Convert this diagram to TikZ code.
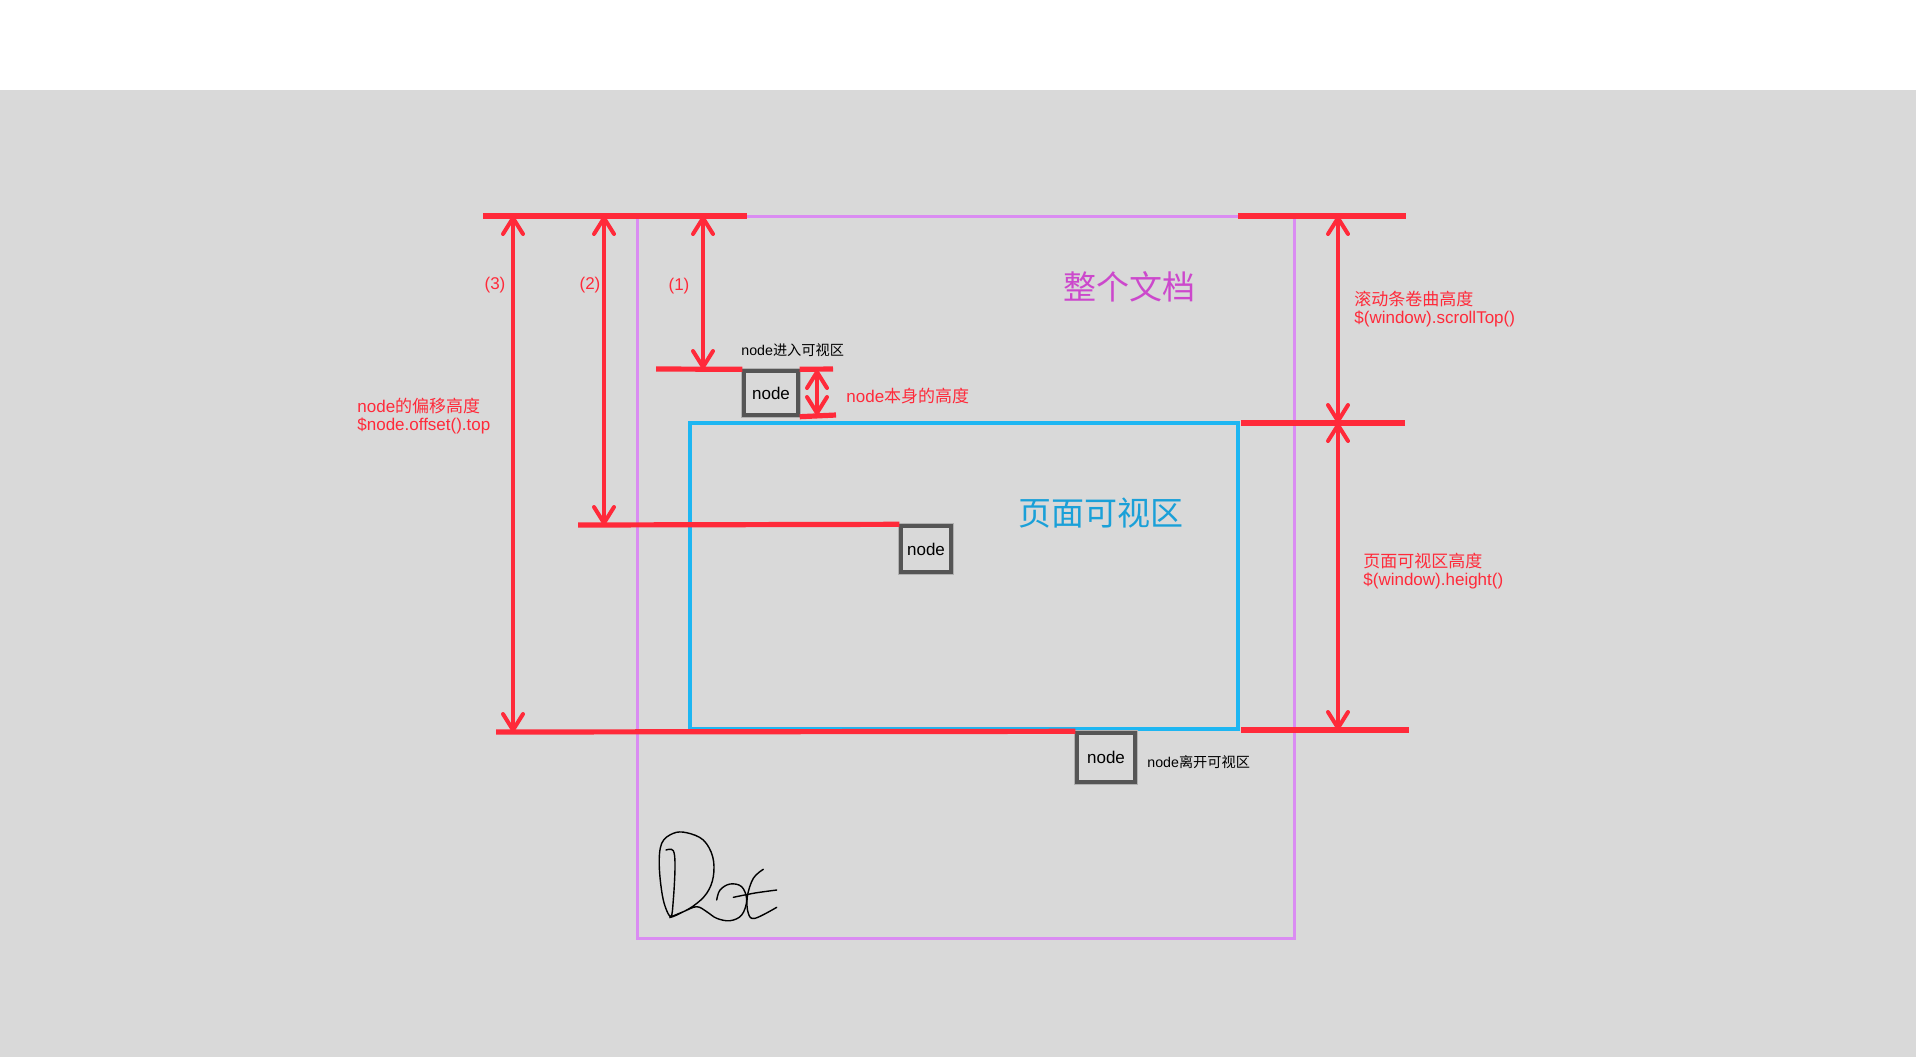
\documentclass[tikz,border=0pt]{standalone}
\usepackage{xcolor}
\usepackage{fontspec}
\setmainfont{Liberation Sans}
\newfontfamily\cjkfont{Noto Sans CJK SC}
\newcommand{\zh}[1]{{\cjkfont #1}}
\usepackage{tikz}
\usetikzlibrary{arrows.meta}
\definecolor{paper}{HTML}{D9D9D9}
\definecolor{measurered}{HTML}{FF2A3A}
\definecolor{docpurple}{HTML}{DA8CF2}
\definecolor{doctext}{HTML}{CC48CC}
\definecolor{viewblue}{HTML}{1DB6F2}
\definecolor{viewtext}{HTML}{1AA0D8}
\definecolor{boxgray}{HTML}{555555}

\tikzset{
  barb/.tip={Straight Barb[length=8pt,width=10pt,round]},
  redbar/.style={draw=measurered, line width=2.6pt},
  measure/.style={draw=measurered, line width=2pt, barb-barb},
  elbox/.style={draw=boxgray, line width=1.7pt, fill=paper, inner sep=0pt,
    preaction={draw=paper!70!boxgray, line width=3.2pt},
    font=\fontsize{8.5}{10}\selectfont},
  redlabel/.style={text=measurered, font=\fontsize{8.5}{9.3}\selectfont,
    align=left, inner sep=0pt, anchor=west},
  smalllabel/.style={text=black, font=\fontsize{7.1}{8}\selectfont,
    inner sep=0pt, anchor=west},
}

\begin{document}
\begin{tikzpicture}[x=0.5pt, y=-0.5pt]
        \useasboundingbox (0,0) rectangle (1916,1057);
        \fill[white] (0,0) rectangle (1916,90);
        \fill[paper] (0,90) rectangle (1916,1057);

        % whole document and visible area
        \draw[docpurple, line width=1.5pt] (637,216) rectangle (1294,938);
        \draw[viewblue, line width=1.6pt] (690,423) rectangle (1238,729);
        \node[text=doctext, font=\cjkfont\fontsize{16.5}{18}\selectfont] (doclabel) at (1129,287) {整个文档};
        \node[text=viewtext, font=\cjkfont\fontsize{16.5}{18}\selectfont] (viewlabel) at (1101,513) {页面可视区};

        % the three nodes
        \node[elbox, minimum width=27pt, minimum height=22pt] (nodeA) at (771,393) {node};
        \node[elbox, minimum width=25pt, minimum height=23pt] (nodeB) at (926,549) {node};
        \node[elbox, minimum width=29pt, minimum height=24.5pt] (nodeC) at (1106,757.5) {node};

        % reference lines
        \coordinate (topL) at (483,216);
        \coordinate (topLend) at (747,216);
        \coordinate (topR) at (1238,216);
        \coordinate (topRend) at (1406,216);
        \coordinate (midR) at (1241,423);
        \coordinate (midRend) at (1405,423);
        \coordinate (botR) at (1241,730);
        \coordinate (botRend) at (1409,730);
        \coordinate (enterL) at (656,369);
        \coordinate (enterR) at (833,369);
        \coordinate (heightR) at (836,415);
        \coordinate (middleL) at (578,525);
        \coordinate (leaveL) at (496,732);
        \draw[redbar] (topL) -- (topLend);
        \draw[redbar] (topR) -- (topRend);
        \draw[redbar] (midR) -- (midRend);
        \draw[redbar] (botR) -- (botRend);
        \draw[redbar] (enterL) -- (nodeA.north west);
        \draw[redbar] (nodeA.north east) -- (enterR);
        \draw[redbar] (nodeA.south east) -- (heightR);
        \draw[redbar] (middleL) -- (nodeB.north west);
        \draw[redbar] (leaveL) -- (nodeC.north west);

        % measurements
        \coordinate (m3a) at (513,216);
        \coordinate (m3b) at (513,732);
        \coordinate (m2a) at (604,216);
        \coordinate (m2b) at (604,525);
        \coordinate (m1a) at (703,216);
        \coordinate (m1b) at (703,369);
        \coordinate (mha) at (817,370);
        \coordinate (mhb) at (817,415);
        \coordinate (msa) at (1338,216);
        \coordinate (msb) at (1338,423);
        \coordinate (mva) at (1338,423);
        \coordinate (mvb) at (1338,730);
        \draw[measure] (m3a) -- (m3b);
        \draw[measure] (m2a) -- (m2b);
        \draw[measure] (m1a) -- (m1b);
        \draw[measure] (mha) -- (mhb);
        \draw[measure] (msa) -- (msb);
        \draw[measure] (mva) -- (mvb);

        % labels
        \node[redlabel, anchor=center] (lab3) at (495,285) {(3)};
        \node[redlabel, anchor=center] (lab2) at (590,285) {(2)};
        \node[redlabel, anchor=center] (lab1) at (679,286) {(1)};
        \node[redlabel] (offset) at (357,416) {node\zh{的偏移高度}\\\$node.offset().top};
        \node[redlabel] (scroll) at (1354,309) {\zh{滚动条卷曲高度}\\\$(window).scrollTop()};
        \node[redlabel] (winheight) at (1363,571) {\zh{页面可视区高度}\\\$(window).height()};
        \node[redlabel] (selfheight) at (846,396) {node\zh{本身的高度}};
        \node[smalllabel] (enter) at (741,350) {node\zh{进入可视区}};
        \node[smalllabel] (leave) at (1147,762) {node\zh{离开可视区}};

        % signature
        \draw[black, line width=0.7pt, line cap=round] plot[smooth, tension=0.6] coordinates {
          (666,850) (673.3,850.7) (675,866.7) (673.3,900) (670.7,916.7) (663.3,900)
          (659.3,866.7) (661.7,843.3) (673.3,833.3) (686.7,832.7) (703.3,840)
          (712.7,856.7) (713.3,876.7) (706.7,893.3) (693.3,906) (676.7,915) (670,917.3)
          (683.3,911.7) (696.7,906.7) (706.7,911.7) (716.7,918.3) (730,920.7)
          (741.7,915) (746.7,900) (741.7,886.7) (730,884) (720,890) (716.7,900)};
        \draw[black, line width=0.7pt, line cap=round] plot[smooth, tension=0.6] coordinates {
          (763.3,869.3) (753.3,878.3) (747.3,896.7) (748.3,913.3) (755,918.3) (776.7,907.3)};
        \draw[black, line width=0.7pt, line cap=round] plot[smooth] coordinates {
          (733.3,897.3) (755,893) (776.7,890)};
    \end{tikzpicture}
\end{document}
